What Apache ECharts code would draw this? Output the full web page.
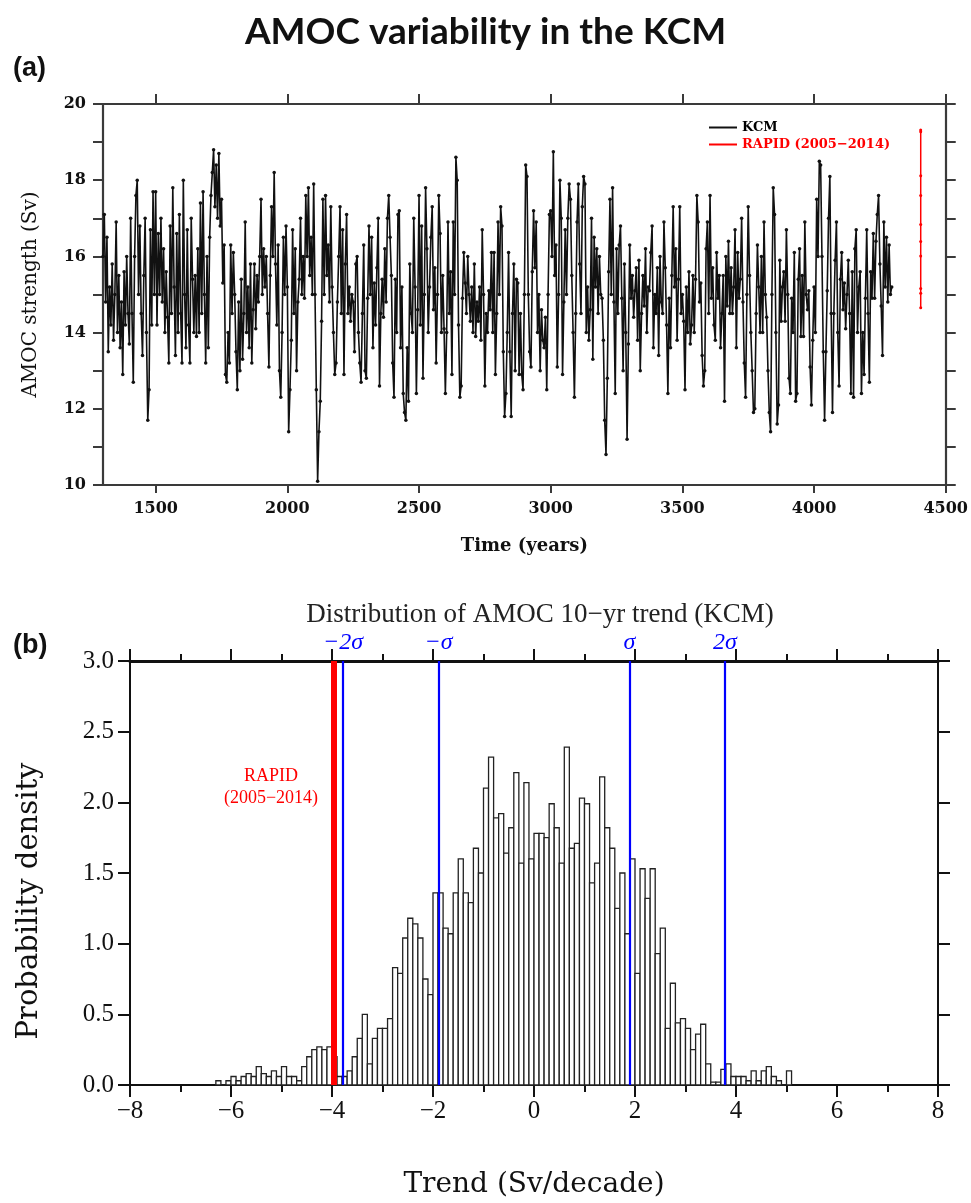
<!DOCTYPE html>
<html><head><meta charset="utf-8">
<script src="https://cdn.jsdelivr.net/npm/echarts@6/dist/echarts.min.js"></script>
<style>html,body{margin:0;padding:0;background:#fff}#c{width:971px;height:1203px}</style>
</head><body><div id="c"></div>
<script>
// ---------- Panel (a): AMOC time series ----------
const startYear = 1300;
const yearStep = 5;
const kcmValues = [
16.0,17.1,14.8,16.5,13.5,15.2,14.2,15.8,13.8,15.0,
16.9,14.0,15.5,13.6,14.8,12.9,15.6,14.2,16.0,14.5,
13.7,17.0,14.5,12.7,16.0,17.6,18.0,15.0,16.8,14.5,
13.4,15.5,17.0,14.0,11.7,12.5,16.7,14.2,17.7,15.0,
17.7,14.2,16.6,15.0,17.0,14.8,16.2,14.0,15.6,14.4,
13.2,16.8,14.5,17.8,15.2,13.4,16.6,14.0,17.1,14.5,
13.2,18.0,15.0,13.6,16.7,14.2,13.2,17.0,15.4,14.0,
15.5,13.9,16.2,14.0,17.4,14.5,17.7,15.0,13.2,16.0,
13.6,16.5,17.6,18.2,18.8,17.3,18.4,17.0,18.7,16.8,
17.5,15.3,16.3,12.9,12.7,14.0,13.2,16.3,14.5,16.1,
15.0,13.5,12.5,14.8,13.0,15.4,13.3,14.5,16.9,14.0,
15.2,13.6,15.8,13.2,14.6,15.8,14.1,15.5,14.8,16.0,
17.5,15.0,16.2,15.2,16.0,14.5,13.1,15.5,17.3,16.0,
18.2,15.8,14.2,16.3,13.0,12.3,14.0,16.5,15.0,16.8,
15.2,11.4,12.5,13.8,16.7,14.5,16.2,13.0,14.8,15.4,
17.0,15.0,16.0,14.9,17.6,16.0,17.8,15.5,16.5,15.0,
17.9,15.0,12.5,10.1,11.4,12.2,14.3,17.5,15.0,17.6,
15.5,16.3,14.8,17.3,15.2,14.0,12.9,13.2,14.8,16.0,
17.3,14.5,16.7,12.9,15.8,17.1,14.5,15.2,14.3,15.0,
14.8,13.5,15.8,16.0,14.0,13.2,12.7,14.5,16.3,13.0,
12.8,14.9,16.8,15.0,16.5,13.6,15.3,14.2,15.7,17.0,
12.6,14.5,15.4,14.4,16.2,14.8,17.0,17.6,16.5,15.5,
13.2,12.3,15.4,14.0,17.1,17.2,13.6,15.2,12.4,11.9,
11.7,13.6,12.2,15.8,14.5,14.0,17.0,15.2,12.4,14.6,
17.6,14.2,16.8,12.8,15.0,17.8,16.2,14.0,15.2,16.5,
17.3,14.6,15.7,13.2,15.0,17.6,16.6,14.0,15.5,14.1,
12.4,14.0,16.9,14.5,15.6,12.9,16.9,15.0,18.6,18.0,
14.2,12.3,12.6,14.9,16.1,15.3,14.5,16.0,15.0,14.3,15.2,14.0,15.8,13.9,14.8,
14.3,15.2,13.8,16.7,15.0,12.6,14.5,14.0,15.1,14.6,
16.1,14.0,16.1,12.9,14.5,16.9,15.0,17.3,16.8,13.5,
11.8,12.4,14.0,16.1,13.5,11.8,14.5,15.8,13.0,15.4,
15.3,12.9,14.5,12.9,12.5,15.0,18.4,18.1,15.0,13.5,
13.1,15.6,17.2,15.7,16.9,14.0,15.0,13.0,14.6,13.8,
13.6,14.4,12.5,15.0,17.1,17.2,16.0,18.75,15.5,16.3,
13.1,15.0,18.0,17.0,12.9,14.8,16.7,15.0,17.0,17.9,
17.5,15.5,14.0,12.3,14.5,16.9,17.9,15.8,14.5,17.3,
18.1,17.9,14.0,15.2,13.8,14.6,17.0,13.3,16.5,15.2,
16.2,14.5,16.0,15.0,14.9,13.8,11.7,10.8,12.8,15.6,
17.5,15.0,17.8,14.8,12.4,16.2,14.5,16.3,16.8,14.9,
13.0,15.8,14.0,11.2,13.7,16.3,14.9,15.5,14.4,15.1,
15.7,13.8,15.9,13.0,14.5,15.5,14.7,16.2,14.0,15.2,
15.1,16.1,16.8,13.6,15.0,14.5,15.7,13.4,16.0,14.8,
14.5,16.9,15.7,14.2,12.4,14.9,13.6,15.5,17.3,15.2,
16.2,13.8,15.4,17.3,14.5,15.0,14.3,12.5,15.2,14.0,
15.6,13.7,14.2,15.5,14.0,15.4,17.6,16.9,14.8,15.3,
13.4,12.6,13.0,16.2,16.9,14.5,17.6,14.9,15.7,14.2,
13.8,16.1,14.9,15.5,13.6,14.5,15.5,12.2,16.0,14.7,
16.4,14.5,15.7,14.5,15.2,16.7,13.6,16.1,14.9,15.4,
17.0,14.8,13.2,12.3,15.0,17.3,15.5,14.0,13.0,11.9,
12.0,14.5,16.3,15.2,14.0,16.0,14.0,16.9,15.0,14.4,
13.0,11.9,11.4,15.0,17.8,17.1,14.0,11.6,12.1,15.9,
14.3,15.2,15.6,14.3,16.7,15.0,12.8,12.4,14.9,14.0,
16.1,12.2,12.4,15.4,16.2,13.9,15.5,13.9,16.9,15.0,
14.6,15.1,13.1,12.1,13.8,15.2,14.0,17.5,16.0,18.5,
18.4,16.0,13.5,11.7,13.5,15.1,17.0,18.1,14.5,11.9,
14.5,15.9,16.9,14.0,12.6,15.4,16.1,14.6,15.3,14.1,
15.0,15.9,14.5,12.4,15.6,12.3,16.2,16.7,14.0,15.2,
15.6,12.4,14.0,12.9,14.9,16.7,14.5,12.7,15.6,14.9,
16.6,14.9,16.4,17.1,17.6,15.8,14.7,13.4,16.9,15.2,16.5,14.8,16.3,15.0,15.2
];
const rapidYear = 4405;
const rapidValues = [19.32,19.27,18.12,17.6,16.84,16.39,16.01,15.16,15.03,14.65];
const timeTicks = [1500,2000,2500,3000,3500,4000,4500];

// ---------- Panel (b): histogram of 10-yr trends ----------
const binStart = -6.3;
const binWidth = 0.1;
const trendDensity = [
0.03,0.00,0.03,0.06,0.03,0.06,0.08,0.06,0.13,0.08,
0.06,0.10,0.06,0.13,0.06,0.06,0.03,0.13,0.20,0.25,
0.27,0.25,0.27,0.20,0.06,0.06,0.10,0.20,0.33,0.50,
0.15,0.33,0.40,0.40,0.47,0.83,0.79,1.04,1.18,1.14,
1.04,0.75,0.64,1.36,1.36,1.11,1.07,1.36,1.60,1.36,
1.29,1.675,1.50,2.10,2.32,1.89,1.92,1.64,1.82,2.21,
1.57,2.14,1.60,1.78,1.78,1.75,1.99,1.82,1.57,2.39,
1.675,1.71,2.03,1.99,1.43,1.57,2.18,1.82,1.675,1.25,
1.50,1.07,1.60,0.79,1.53,1.32,1.53,0.93,1.11,0.40,
0.72,0.44,0.47,0.40,0.25,0.36,0.43,0.15,0.02,0.02,
0.11,0.15,0.06,0.06,0.06,0.03,0.10,0.03,0.10,0.13,
0.06,0.03,0.00,0.10
];
const sigmaPositions = [-3.78, -1.89, 1.89, 3.78];
const sigmaLabels = ['−2σ', '−σ', 'σ', '2σ'];
const rapidTrend = -3.97;

// ---------- build ----------
const kcmData = kcmValues.map((v, i) => [startYear + i * yearStep, v]);
const rapidData = rapidValues.map(v => [rapidYear, v]);
const binData = trendDensity.map((h, i) => [binStart + i * binWidth, binStart + (i + 1) * binWidth, h]);

const serifA = 'DejaVu Serif';
const serifB = 'Liberation Serif';
const minusFmt = v => (v < 0 ? '−' + Math.abs(v) : String(v));

const chart = echarts.init(document.getElementById('c'), null, {renderer: 'canvas'});
const axLineA = {show: true, onZero: false, lineStyle: {color: '#3a3a3a', width: 2.2}};
const axLineB = w => ({show: true, onZero: false, lineStyle: {color: '#111', width: w}});
const tickA = (len) => ({show: true, inside: false, length: len, lineStyle: {color: '#3a3a3a', width: 2}});
const tickB = {show: true, inside: false, length: 12, lineStyle: {color: '#111', width: 2}};
const minorB = {show: true, splitNumber: 2, length: 7, lineStyle: {color: '#111', width: 2}};

chart.setOption({
  animation: false,
  backgroundColor: '#fff',
  title: [
    {text: 'AMOC variability in the KCM', left: 'center', top: 9,
     textStyle: {fontFamily: 'Lato', fontWeight: 'bold', fontSize: 37, color: '#111'}},
    {text: '(a)', left: 8, top: 50, textStyle: {fontFamily: 'Liberation Sans', fontWeight: 'bold', fontSize: 27, color: '#111'}},
    {text: '(b)', left: 8, top: 627, textStyle: {fontFamily: 'Liberation Sans', fontWeight: 'bold', fontSize: 27, color: '#111'}},
    {text: 'Distribution of AMOC 10−yr trend (KCM)', left: 535, textAlign: 'center', top: 596,
     textStyle: {fontFamily: serifB, fontWeight: 'normal', fontSize: 27, color: '#222'}},
    {text: 'RAPID\n(2005−2014)', left: 266, textAlign: 'center', top: 760,
     textStyle: {fontFamily: serifB, fontWeight: 'normal', fontSize: 18, lineHeight: 22, color: '#ff0000', align: 'center'}}
  ],
  graphic: [
    {type: 'text', x: 29, y: 901, rotation: Math.PI / 2,
     style: {text: 'Probability density', fontFamily: serifA, fontSize: 29, fill: '#111',
             textAlign: 'center', textVerticalAlign: 'middle'}}
  ],
  legend: {
    orient: 'vertical', left: 704, top: 116, itemGap: 4, itemWidth: 28, itemHeight: 2,
    icon: 'rect',
    textStyle: {fontFamily: serifA, fontWeight: 'bold', fontSize: 13},
    data: [
      {name: 'KCM', textStyle: {color: '#000'}},
      {name: 'RAPID (2005−2014)', textStyle: {color: '#ff0000'}}
    ]
  },
  grid: [
    {left: 103, top: 104, width: 846, height: 381},
    {left: 130, top: 661, width: 808, height: 424}
  ],
  xAxis: [
    {gridIndex: 0, type: 'value', min: 1300, max: 4500, position: 'bottom',
     name: 'Time (years)', nameLocation: 'middle', nameGap: 52,
     nameTextStyle: {fontFamily: serifA, fontWeight: 'bold', fontSize: 18, color: '#111'},
     axisLine: axLineA,
     axisTick: Object.assign(tickA(8), {customValues: timeTicks}),
     axisLabel: {fontFamily: serifA, fontWeight: 'bold', fontSize: 16, color: '#111', margin: 16,
                 customValues: timeTicks, formatter: v => String(v)},
     splitLine: {show: false}},
    {gridIndex: 0, type: 'value', min: 1300, max: 4500, position: 'top',
     axisLine: axLineA,
     axisTick: Object.assign(tickA(10), {customValues: timeTicks}),
     axisLabel: {show: false}, splitLine: {show: false}},
    {gridIndex: 1, type: 'value', min: -8, max: 8, interval: 2, position: 'bottom',
     name: 'Trend (Sv/decade)', nameLocation: 'middle', nameGap: 86,
     nameTextStyle: {fontFamily: serifA, fontSize: 28, color: '#111'},
     axisLine: axLineB(2),
     axisTick: tickB, minorTick: minorB,
     axisLabel: {fontFamily: serifB, fontSize: 25, color: '#111', margin: 14, formatter: minusFmt},
     splitLine: {show: false}, minorSplitLine: {show: false}},
    {gridIndex: 1, type: 'value', min: -8, max: 8, interval: 2, position: 'top',
     axisLine: axLineB(3),
     axisTick: tickB, minorTick: minorB,
     axisLabel: {show: false}, splitLine: {show: false}, minorSplitLine: {show: false}}
  ],
  yAxis: [
    {gridIndex: 0, type: 'value', min: 10, max: 20, interval: 1, position: 'left',
     name: 'AMOC strength (Sv)', nameLocation: 'middle', nameGap: 62, nameRotate: 90,
     nameTextStyle: {fontFamily: serifA, fontSize: 20, color: '#111'},
     axisLine: axLineA, axisTick: tickA(10),
     axisLabel: {fontFamily: serifA, fontWeight: 'bold', fontSize: 16, color: '#111', margin: 17,
                 formatter: v => (v % 2 === 0 ? String(v) : '')},
     splitLine: {show: false}},
    {gridIndex: 0, type: 'value', min: 10, max: 20, interval: 1, position: 'right',
     axisLine: axLineA, axisTick: tickA(10),
     axisLabel: {show: false}, splitLine: {show: false}},
    {gridIndex: 1, type: 'value', min: 0, max: 3, interval: 0.5, position: 'left',
     axisLine: axLineB(2), axisTick: tickB,
     axisLabel: {fontFamily: serifB, fontSize: 25, color: '#111', margin: 16, formatter: v => v.toFixed(1)},
     splitLine: {show: false}},
    {gridIndex: 1, type: 'value', min: 0, max: 3, interval: 0.5, position: 'right',
     axisLine: axLineB(2), axisTick: tickB,
     axisLabel: {show: false}, splitLine: {show: false}}
  ],
  series: [
    {name: 'KCM', type: 'line', xAxisIndex: 0, yAxisIndex: 0, data: kcmData,
     showSymbol: true, symbol: 'circle', symbolSize: 3.5,
     itemStyle: {color: '#111'}, lineStyle: {color: '#111', width: 1.6}, z: 3},
    {name: 'RAPID (2005−2014)', type: 'line', xAxisIndex: 0, yAxisIndex: 0, data: rapidData,
     showSymbol: true, symbol: 'circle', symbolSize: 3,
     itemStyle: {color: '#ff0000'}, lineStyle: {color: '#ff0000', width: 1.5}, z: 4},
    {name: 'trend histogram', type: 'custom', xAxisIndex: 2, yAxisIndex: 2, data: binData,
     encode: {x: [0, 1], y: 2},
     renderItem: function (params, api) {
       const p0 = api.coord([api.value(0), 0]);
       const p1 = api.coord([api.value(1), api.value(2)]);
       return {type: 'rect',
         shape: {x: p0[0], y: p1[1], width: p1[0] - p0[0], height: p0[1] - p1[1]},
         style: {fill: '#fff', stroke: '#222', lineWidth: 1.3}};
     },
     markLine: {
       silent: true, symbol: 'none', animation: false,
       data: [
         {xAxis: rapidTrend, lineStyle: {color: '#ff0000', width: 6, type: 'solid'}, label: {show: false}}
       ].concat(sigmaPositions.map((x, i) => ({
         xAxis: x,
         lineStyle: {color: '#0000ff', width: 2.2, type: 'solid'},
         label: {show: true, position: 'end', distance: 6, formatter: sigmaLabels[i],
                 fontFamily: serifB, fontStyle: 'italic', fontSize: 24, color: '#0000ff'}
       })))
     },
     z: 2}
  ]
});
</script>
</body></html>
